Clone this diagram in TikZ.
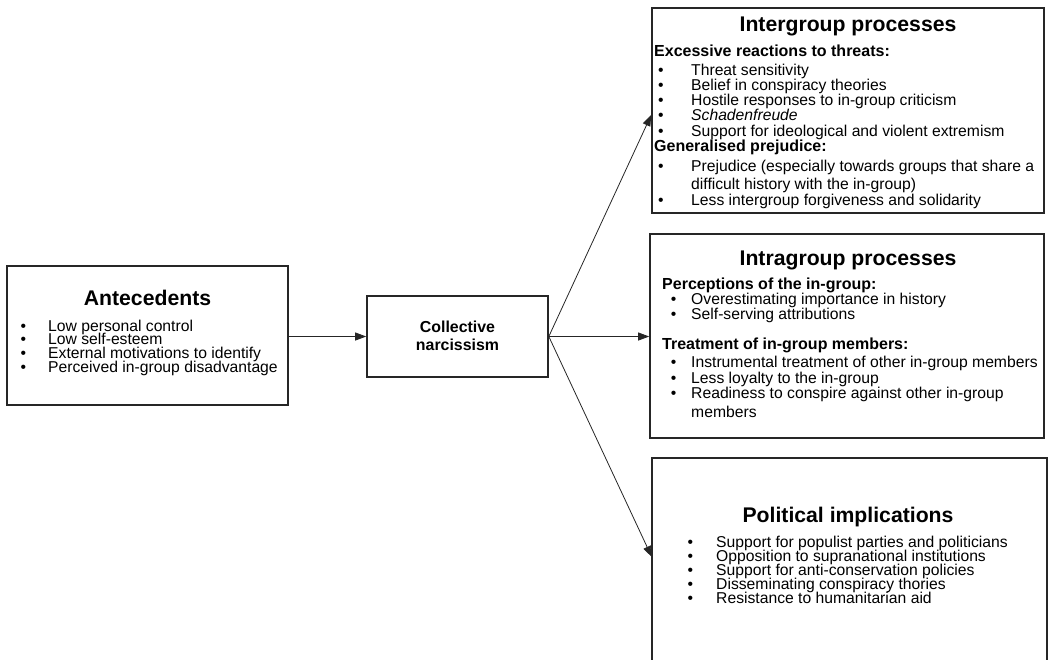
\documentclass[tikz,border=0pt]{standalone}
\usepackage{fontspec}
\setmainfont{Liberation Sans}
\usetikzlibrary{arrows.meta,calc}
\begin{document}
\begin{tikzpicture}[x=1pt,y=-1pt,
 box/.style={draw=black!85, line width=1.6pt, rectangle, inner sep=0pt},
 openbox/.style={rectangle, inner sep=0pt},
 arr/.style={draw=black!85, line width=0.8pt, -{Triangle[length=11pt,width=8pt]}},
 ttl/.style={font=\fontsize{21.2}{24}\selectfont\bfseries, inner sep=0pt, anchor=base, text=black},
 cnt/.style={font=\fontsize{15.9}{18}\selectfont\bfseries, inner sep=0pt, anchor=base, text=black},
 sub/.style={font=\fontsize{16}{18}\selectfont\bfseries, inner sep=0pt, anchor=base west, text=black},
 itm/.style={font=\fontsize{15.7}{18}\selectfont, inner sep=0pt, anchor=base west, text=black},
 bul/.style={font=\fontsize{15.7}{18}\selectfont, inner sep=0pt, anchor=base west, text=black},
]
\useasboundingbox (0,0) rectangle (1048,659);

% boxes
\node[box, minimum width=281pt, minimum height=139pt] (ante) at (147.5,335.5) {};
\node[box, minimum width=181pt, minimum height=81pt] (cn) at (457.5,336.5) {};
\node[box, minimum width=392pt, minimum height=205pt] (inter) at (848,110.5) {};
\node[box, minimum width=394pt, minimum height=204pt] (intra) at (847,336) {};
\node[openbox, minimum width=395pt, minimum height=203pt] (pol) at (849.5,559.5) {};
\draw[draw=black!85, line width=1.6pt] (pol.south west) -- (pol.north west) -- (pol.north east) -- (pol.south east);

% Antecedents
\node[ttl] (anteT) at (147.5,305) {Antecedents};
\node[bul] (ab1) at (20.3,331) {•}; \node[itm] (a1) at (48,331) {Low personal control};
\node[bul] (ab2) at (20.3,344.7) {•}; \node[itm] (a2) at (48,344.7) {Low self-esteem};
\node[bul] (ab3) at (20.3,358.4) {•}; \node[itm] (a3) at (48,358.4) {External motivations to identify};
\node[bul] (ab4) at (20.3,372.1) {•}; \node[itm] (a4) at (48,372.1) {Perceived in-group disadvantage};

% Collective narcissism
\node[cnt] (cn1) at (457.5,332) {Collective};
\node[cnt] (cn2) at (457.5,350) {narcissism};

% Intergroup
\node[ttl] (interT) at (848,31.5) {Intergroup processes};
\node[sub] (is1) at (654,56.7) {Excessive reactions to threats:};
\node[bul] (ib1) at (658,75) {•}; \node[itm] (i1) at (691,75) {Threat sensitivity};
\node[bul] (ib2) at (658,90) {•}; \node[itm] (i2) at (691,90) {Belief in conspiracy theories};
\node[bul] (ib3) at (658,105) {•}; \node[itm] (i3) at (691,105) {Hostile responses to in-group criticism};
\node[bul] (ib4) at (658,120) {•}; \node[itm] (i4) at (691,120) {\itshape Schadenfreude};
\node[bul] (ib5) at (658,136) {•}; \node[itm] (i5) at (691,136) {Support for ideological and violent extremism};
\node[sub] (is2) at (654,151.5) {Generalised prejudice:};
\node[bul] (ib6) at (658,171) {•}; \node[itm] (i6) at (691,171) {Prejudice (especially towards groups that share a};
\node[itm] (i6b) at (691,189) {difficult history with the in-group)};
\node[bul] (ib7) at (658,205) {•}; \node[itm] (i7) at (691,205) {Less intergroup forgiveness and solidarity};

% Intragroup
\node[ttl] (intraT) at (848,265) {Intragroup processes};
\node[sub] (js1) at (662,289) {Perceptions of the in-group:};
\node[bul] (jb1) at (670.6,304) {•}; \node[itm] (j1) at (691,304) {Overestimating importance in history};
\node[bul] (jb2) at (670.6,319) {•}; \node[itm] (j2) at (691,319) {Self-serving attributions};
\node[sub] (js2) at (662,349) {Treatment of in-group members:};
\node[bul] (jb3) at (670.6,367) {•}; \node[itm] (j3) at (691,367) {Instrumental treatment of other in-group members};
\node[bul] (jb4) at (670.6,383) {•}; \node[itm] (j4) at (691,383) {Less loyalty to the in-group};
\node[bul] (jb5) at (670.6,398) {•}; \node[itm] (j5) at (691,398) {Readiness to conspire against other in-group};
\node[itm] (j5b) at (691,417) {members};

% Political
\node[ttl] (polT) at (848,522) {Political implications};
\node[bul] (pb1) at (687.5,547) {•}; \node[itm] (p1) at (716,547) {Support for populist parties and politicians};
\node[bul] (pb2) at (687.5,561) {•}; \node[itm] (p2) at (716,561) {Opposition to supranational institutions};
\node[bul] (pb3) at (687.5,575) {•}; \node[itm] (p3) at (716,575) {Support for anti-conservation policies};
\node[bul] (pb4) at (687.5,589) {•}; \node[itm] (p4) at (716,589) {Disseminating conspiracy thories};
\node[bul] (pb5) at (687.5,603) {•}; \node[itm] (p5) at (716,603) {Resistance to humanitarian aid};

% connectors
\coordinate (interIn) at (inter.west |- 0,115);
\coordinate (polIn) at (pol.west |- 0,557);
\draw[arr] (ante.east |- cn.west) -- (cn.west);
\draw[arr] (cn.east) -- (intra.west |- cn.east);
\draw[arr] (cn.east) -- (interIn);
\draw[arr] (cn.east) -- (polIn);
\end{tikzpicture}
\end{document}
